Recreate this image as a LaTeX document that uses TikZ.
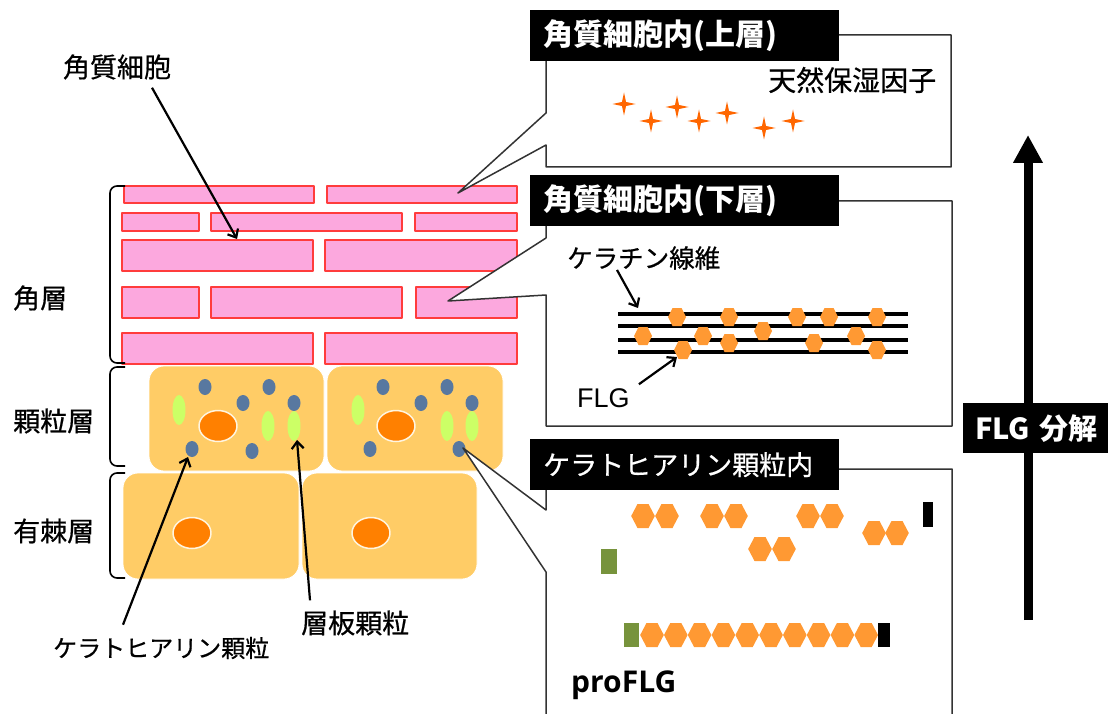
\documentclass[tikz,border=0pt]{standalone}
\usepackage{fontspec}
\setmainfont{Noto Sans CJK JP}
\newfontfamily\jpmed{Noto Sans CJK JP}[FakeBold=0.6]
\newfontfamily\latinsf{Liberation Sans}
\newfontfamily\proflgfont{Open Sans}
\usetikzlibrary{arrows.meta,shapes.geometric}
\newcommand{\fsz}[1]{\fontsize{#1}{#1}\selectfont}
\definecolor{brickpink}{RGB}{252,168,222}
\definecolor{brickred}{RGB}{255,60,60}
\definecolor{cellfill}{RGB}{255,204,102}
\definecolor{nucorange}{RGB}{255,128,0}
\definecolor{dotblue}{RGB}{88,120,160}
\definecolor{granGreen}{RGB}{204,255,102}
\definecolor{hexorange}{RGB}{255,153,51}
\definecolor{starorange}{RGB}{255,102,0}
\definecolor{proGreen}{RGB}{119,147,60}
\tikzset{
  pics/hexS/.style={code={\fill[hexorange] (-9,0) -- (-4.5,-9) -- (4.5,-9) -- (9,0) -- (4.5,9) -- (-4.5,9) -- cycle;}},
  pics/hexL/.style={code={\fill[hexorange] (-11.8,0) -- (-5.5,-12) -- (5.5,-12) -- (11.8,0) -- (5.5,12) -- (-5.5,12) -- cycle;}}
}
\begin{document}
\begin{tikzpicture}[x=1pt, y=-1pt, line join=round, >={Straight Barb[length=7pt,width=12pt]},
  lbl/.style={inner sep=0pt, font=\jpmed\fsz{27}},
  brick/.style={fill=brickpink, draw=brickred, line width=1.3pt},
  cell/.style={fill=cellfill, draw=white, line width=0.8pt, rounded corners=15pt},
  nucleus/.style={fill=nucorange, draw=white!80!cellfill, line width=1.5pt},
  callout/.style={fill=white, draw=black!80, line width=1.5pt},
  hdr/.style={fill=black, text=white, inner xsep=13pt, inner ysep=0pt, minimum height=51pt, align=left, anchor=north west},
  sparkle/.style={star, star points=4, star point ratio=4, fill=starorange, minimum size=23pt, inner sep=0pt},
  pointer/.style={->, line width=2.2pt},
  bracket/.style={line width=1.6pt, rounded corners=7pt}]
\fill[white] (0,0) rectangle (1108,714);
\useasboundingbox (0,0) rectangle (1108,714);

% 角層のレンガ
\foreach \xa/\ya/\xb/\yb in {124/186/314/203, 327/186/517/203,
    122/213/199/231, 211/213/402/231, 415/213/517/231,
    122/240/313/271, 325/240/517/271,
    122/287/199/318, 211/287/402/318, 416/287/517/318,
    122/333/313/364, 325/333/517/364}
  \filldraw[brick] (\xa,\ya) rectangle (\xb,\yb);

% 顆粒層・有棘層の細胞
\filldraw[cell] (149,366) rectangle (324,471);
\filldraw[cell] (327,366) rectangle (503,471);
\filldraw[cell] (123,473) rectangle (299,579);
\filldraw[cell] (302,473) rectangle (477,579);
\foreach \x/\y in {218/426, 396/426, 192/533, 371/533}
  \filldraw[nucleus] (\x,\y) ellipse [x radius=19pt, y radius=15.5pt];
\foreach \x/\y in {205/387, 269/387, 243/403, 294/403, 192/449, 252/451,
    383/387, 447/387, 421/403, 472/403, 370/449, 459/449}
  \fill[dotblue] (\x,\y) ellipse [x radius=6.5pt, y radius=8pt];
\foreach \x/\y in {179/410, 268/426, 294/426, 358/410, 447/426, 472/426}
  \fill[granGreen] (\x,\y) ellipse [x radius=6.5pt, y radius=15pt];

% 括弧
\draw[bracket] (125,186) -- (110,186) -- (110,363) -- (125,363);
\draw[bracket] (125,367) -- (110,367) -- (110,466) -- (125,466);
\draw[bracket] (125,473) -- (110,473) -- (110,578) -- (125,578);

\node[lbl, anchor=west] (kaku) at (13,298) {角層};
\node[lbl, anchor=west] (kary) at (13,421) {顆粒層};
\node[lbl, anchor=west] (yuki) at (13,531) {有棘層};
\node[lbl] (cornCell) at (117,67) {角質細胞};
\node[lbl, anchor=west, font=\jpmed\fsz{24}] (khGran) at (53,648) {ケラトヒアリン顆粒};
\node[lbl, anchor=west] (lamGran) at (301,623) {層板顆粒};

% 吹き出し
\filldraw[callout] (546,35) -- (951,35) -- (951,167) -- (546,167) -- (546,145) -- (458,193) -- (546,113) -- cycle;
\filldraw[callout] (546,201) -- (952,201) -- (952,426) -- (546,426) -- (546,295) -- (448,301) -- (546,238) -- cycle;
\filldraw[callout] (546,469) -- (952,469) -- (952,730) -- (546,730) -- (546,572) -- (463,448) -- (546,510) -- cycle;

\node[hdr, text width=283pt, font=\fsz{30}\bfseries] (hdUpper) at (530,10) {角質細胞内(上層)};
\node[hdr, text width=283pt, font=\fsz{30}\bfseries] (hdLower) at (530,175) {角質細胞内(下層)};
\node[hdr, text width=283pt, font=\jpmed\fsz{27}] (hdGran) at (530,439) {ケラトヒアリン顆粒内};

% 上層：天然保湿因子
\node[lbl, anchor=west, font=\jpmed\fsz{28}] (nmf) at (768,80) {天然保湿因子};
\foreach \x/\y [count=\i] in {624/104, 651/121, 677/107, 699/121, 727/113, 764/128, 793/121}
  \node[sparkle] (spark\i) at (\x,\y) {};

% 下層：ケラチン線維とFLG
\foreach \y in {314,326.3,340,352.3}
  \draw[line width=4pt] (618,\y) -- (908,\y);
\foreach \x/\y in {643/336, 677/317, 683/350, 703/336, 729/317, 729/343, 763/331,
    797/317, 814/343, 829/317, 856/336, 877/317, 877/350}
  \pic at (\x,\y) {hexS};
\node[lbl, anchor=west, font=\jpmed\fsz{25.5}] (kerFib) at (567,258) {ケラチン線維};
\node[lbl, anchor=west, font=\latinsf\fsz{27}] (flg) at (577,398) {FLG};
\coordinate (kerTip) at (638,308);
\coordinate (flgTip) at (677,357);
\draw[pointer] ([xshift=50pt]kerFib.south west) -- (kerTip);
\draw[pointer] ([xshift=9pt,yshift=4pt]flg.north east) -- (flgTip);

% 顆粒内：proFLG
\foreach \x/\y in {643/516, 667/516, 712/516, 736/516, 808/516, 832/516,
    760/549, 784/549, 874/533, 897/533}
  \pic at (\x,\y) {hexL};
\fill (923,502) rectangle (933,527);
\fill[proGreen] (601,549) rectangle (617,574);
\fill[proGreen] (624,623) rectangle (639,647);
\foreach \i in {0,...,9}
  \pic at (652+23.8*\i,635) {hexL};
\fill (878,623) rectangle (890,647);
\node[lbl, anchor=west, font=\proflgfont\bfseries\fsz{30}] (proflg) at (571,685) {proFLG};

% FLG分解の矢印
\coordinate (arrBase) at (1028,620);
\coordinate (arrTip) at (1028,135);
\node[hdr, text width=128pt, minimum height=50pt, inner xsep=12pt, font=\fsz{29}\bfseries] (flgDeg) at (963,403) {FLG 分解};
\draw[line width=9pt] (arrBase) -- (arrBase |- flgDeg.south);
\draw[line width=9pt, -{Triangle[length=28pt,width=28pt]}] (arrBase |- flgDeg.north) -- (arrTip);

% 引き出し線
\coordinate (cornTip) at (237,239);
\coordinate (khTip) at (188,457);
\coordinate (lamTip) at (297,440);
\draw[pointer] ([xshift=35pt,yshift=-8pt]cornCell.south) -- (cornTip);
\draw[pointer] ([xshift=70pt,yshift=12pt]khGran.north west) -- (khTip);
\draw[pointer] ([xshift=9pt,yshift=10pt]lamGran.north west) -- (lamTip);
\end{tikzpicture}
\end{document}
